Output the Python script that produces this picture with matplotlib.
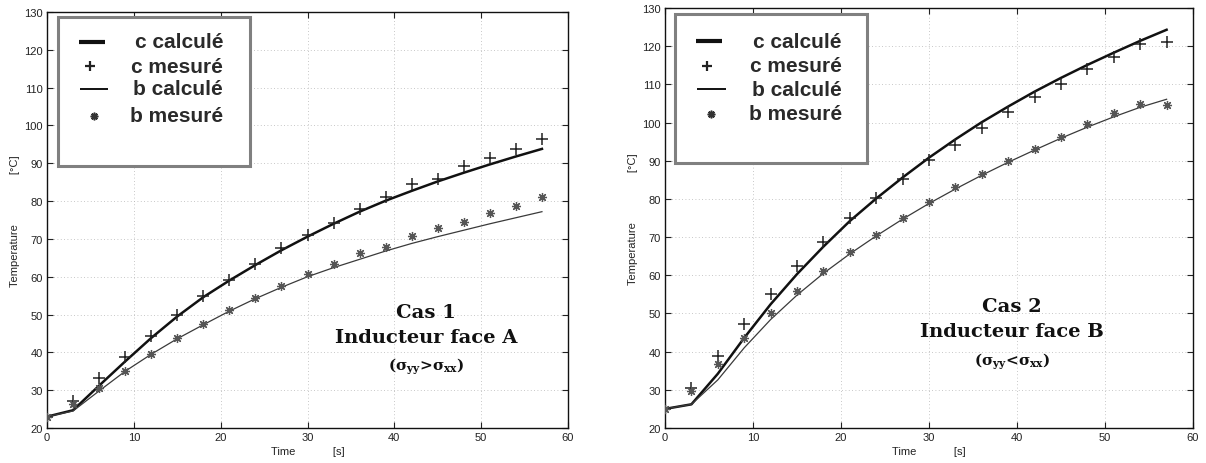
import matplotlib
matplotlib.use("Agg")
import matplotlib.pyplot as plt
from matplotlib.patches import Rectangle

# ---------------- data ----------------
time_s = [0, 3, 6, 9, 12, 15, 18, 21, 24, 27, 30, 33, 36, 39, 42, 45, 48, 51, 54, 57]

# Cas 1 - Inducteur face A
cas1_c_calc = [23.0, 24.7, 31.2, 37.6, 43.8, 49.5, 54.6, 59.0, 63.1, 67.0, 70.6, 74.0,
               77.2, 80.1, 82.7, 85.2, 87.5, 89.7, 91.8, 93.8]
cas1_c_mes = [23.0, 27.2, 33.2, 38.9, 44.4, 49.9, 55.0, 59.1, 63.4, 67.5, 71.0, 74.3,
              77.9, 81.0, 84.4, 85.8, 89.2, 91.4, 93.7, 96.3]
cas1_b_calc = [23.0, 24.5, 29.8, 35.0, 39.5, 43.6, 47.3, 50.9, 54.2, 57.2, 60.0, 62.4,
               64.6, 66.8, 68.8, 70.6, 72.3, 74.0, 75.6, 77.2]
cas1_b_mes = [23.0, 26.3, 30.5, 35.1, 39.5, 43.7, 47.5, 51.2, 54.5, 57.6, 60.6, 63.4,
              66.2, 67.9, 70.8, 72.8, 74.5, 76.9, 78.8, 81.0]

# Cas 2 - Inducteur face B
cas2_c_calc = [25.0, 26.2, 34.2, 43.6, 52.4, 60.3, 67.5, 74.2, 80.1, 85.6, 90.8, 95.6,
               100.1, 104.2, 108.1, 111.7, 115.1, 118.3, 121.4, 124.3]
cas2_c_mes = [25.1, 30.4, 38.8, 47.3, 55.1, 62.3, 68.8, 75.1, 80.3, 85.2, 90.1, 94.2,
              98.7, 102.7, 106.6, 110.2, 114.0, 117.2, 120.6, 121.0]
cas2_b_calc = [25.0, 26.2, 32.6, 41.0, 48.4, 54.8, 60.5, 65.6, 70.3, 74.7, 78.8, 82.6,
               86.2, 89.6, 92.8, 95.9, 98.8, 101.5, 104.0, 106.1]
cas2_b_mes = [25.1, 29.7, 36.7, 43.6, 50.1, 55.8, 61.2, 66.0, 70.5, 75.1, 79.3, 83.2,
              86.6, 90.0, 93.1, 96.3, 99.6, 102.4, 104.8, 104.6]

legend_labels = ["c calculé", "c mesuré", "b calculé", "b mesuré"]
x_ticks = [0, 10, 20, 30, 40, 50, 60]
y_ticks = [20, 30, 40, 50, 60, 70, 80, 90, 100, 110, 120, 130]
annot1 = ["Cas 1", "Inducteur face A", r"(σ$_{\mathbf{yy}}$>σ$_{\mathbf{xx}}$)"]
annot2 = ["Cas 2", "Inducteur face B", r"(σ$_{\mathbf{yy}}$<σ$_{\mathbf{xx}}$)"]

# ---------------- style ----------------
plt.rcParams['font.family'] = ['Liberation Sans', 'DejaVu Sans']
plt.rcParams['mathtext.fontset'] = 'dejavuserif'

W, H = 1206, 464
fig = plt.figure(figsize=(W / 100, H / 100), dpi=100)

ASTER = (8, 2, 0)
C_THICK = '#111111'
C_THIN = '#3a3a3a'
C_PLUS = '#222222'
C_STAR = '#555555'


def make_axes(px_left, px_right, px_top, px_bottom):
    return fig.add_axes([px_left / W, 1 - px_bottom / H,
                         (px_right - px_left) / W, (px_bottom - px_top) / H])


def draw_panel(ax, c_calc, c_mes, b_calc, b_mes, annot, leg):
    ax.plot(time_s, c_calc, color=C_THICK, lw=1.8, zorder=3)
    ax.plot(time_s, c_mes, ls='none', marker='+', ms=8, mew=1.1, color=C_PLUS, zorder=4)
    ax.plot(time_s, b_calc, color=C_THIN, lw=0.9, zorder=3)
    ax.plot(time_s, b_mes, ls='none', marker=ASTER, ms=6.5, mew=0.9, color=C_STAR, zorder=4)

    ax.set_xlim(0, 60)
    ax.set_ylim(20, 130)
    ax.set_xticks(x_ticks)
    ax.set_yticks(y_ticks)
    ax.tick_params(direction='in', length=4, width=0.8, labelsize=8, top=True, right=True,
                   colors='#222222', labelcolor='#222222', pad=3)
    ax.grid(True, ls=(0, (1, 3)), color='#b5b5b5', lw=0.6)
    for s in ax.spines.values():
        s.set_linewidth(1.0)
        s.set_color('#111111')

    ax.set_xlabel('Time' + ' ' * 12 + '[s]', fontsize=8, color='#222222')
    ax.set_ylabel('Temperature' + ' ' * 16 + '[°C]', fontsize=8, color='#222222')
    ax.xaxis.set_label_coords(0.5, -0.043)
    ax.yaxis.set_label_coords(-0.052, 0.5)

    # legend box (MATLAB style)
    bx0, bx1, by0, by1 = leg['box']
    ax.add_patch(Rectangle((bx0, by0), bx1 - bx0, by1 - by0, transform=ax.transAxes,
                           facecolor='white', edgecolor='#808080', lw=2.2, zorder=6))
    rows = leg['rows']
    tr = ax.transAxes
    ax.plot(leg['thick'], [rows[0]] * 2, transform=tr, color=C_THICK, lw=3.0, zorder=7,
            solid_capstyle='butt')
    ax.plot([leg['plus']], [rows[1]], transform=tr, marker='+', ms=7, mew=1.6,
            color=C_PLUS, zorder=7)
    ax.plot(leg['thin'], [rows[2]] * 2, transform=tr, color='#111111', lw=1.4, zorder=7,
            solid_capstyle='butt')
    ax.plot([leg['star']], [rows[3]], transform=tr, marker=ASTER, ms=5.5, mew=1.2,
            color='#333333', zorder=7)
    for r, lab in zip(rows, legend_labels):
        ax.text(leg['text_x'], r, lab, transform=tr, ha='right', va='center',
                fontsize=15, fontweight='bold', color='#2a2a2a', zorder=7)

    # annotation
    ax_x, ys = annot['x'], annot['y']
    sizes = [14, 14, 11]
    for t, y, fs in zip(annot['text'], ys, sizes):
        ax.text(ax_x, y, t, transform=tr, ha='center', va='center', fontsize=fs,
                fontweight='bold', family='DejaVu Serif', color='#111111', zorder=5)


ax1 = make_axes(47, 568, 13, 429)
ax2 = make_axes(665, 1193, 9, 429)

draw_panel(ax1, cas1_c_calc, cas1_c_mes, cas1_b_calc, cas1_b_mes,
           {'x': 0.727, 'y': [0.279, 0.219, 0.149], 'text': annot1},
           {'box': (0.021, 0.390, 0.630, 0.988), 'rows': [0.928, 0.870, 0.815, 0.750],
            'thick': [0.061, 0.111], 'plus': 0.083, 'thin': [0.063, 0.117], 'star': 0.090,
            'text_x': 0.338})
draw_panel(ax2, cas2_c_calc, cas2_c_mes, cas2_b_calc, cas2_b_mes,
           {'x': 0.657, 'y': [0.290, 0.231, 0.160], 'text': annot2},
           {'box': (0.019, 0.383, 0.631, 0.986), 'rows': [0.921, 0.862, 0.807, 0.748],
            'thick': [0.059, 0.108], 'plus': 0.080, 'thin': [0.061, 0.116], 'star': 0.087,
            'text_x': 0.335})

fig.savefig('out.png', dpi=100, facecolor='white')
